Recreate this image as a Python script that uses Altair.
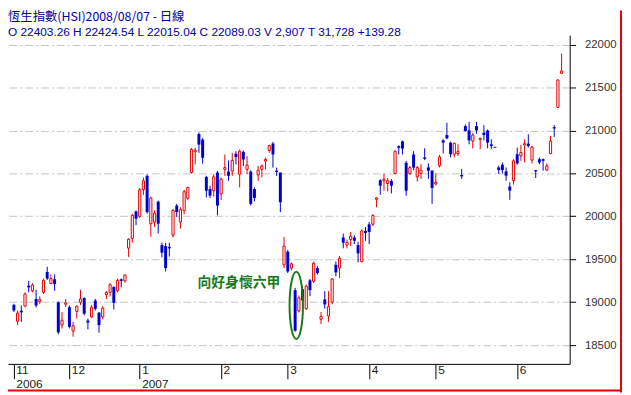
import altair as alt
import pandas as pd

# ---------------- data ----------------
opens = [
    18969, 18778, 18900, 18954, 19191, 19133, 19038, 19007, 19114, 19351,
    19217, 19267, 19000, 18733, 18977, 18942, 18664, 18893, 19000, 19049,
    18786, 18828, 19019, 18878, 18828, 19088, 19114, 19179, 19133, 19267,
    19248, 19630, 19744, 20057, 20000, 20310, 20471, 19914, 19934, 20171,
    19665, 19654, 19642, 19780, 20125, 19934, 20068, 20210, 20509, 20751,
    20958, 20893, 20459, 20317, 20298, 20509, 20260, 20547, 20521, 20528,
    20728, 20490, 20751, 20547, 20521, 20317, 20482, 20547, 20643, 20766,
    20847, 20532, 20509, 19435, 19588, 19397, 19140, 18898, 19150, 18925,
    19255, 19243, 19397, 18802, 19032, 18840, 19001, 19435, 19397, 19753,
    19665, 19730, 19753, 19665, 19473, 19830, 19907, 19907, 20198, 20421,
    20413, 20382, 20413, 20498, 20816, 20873, 20624, 20498, 20720, 20459,
    20500, 20685, 20569, 20531, 20377, 20588, 20885, 20946, 20858, 20723,
    20731, 20481, 21050, 21000, 20877, 21050, 20896, 20973, 21000, 20838,
    20808, 20569, 20600, 20523, 20346, 20415, 20723, 20704, 20831, 20846,
    20654, 20538, 20665, 20665, 20538, 20731, 21038, 21269, 21665,
]
highs = [
    18981, 18904, 18962, 19114, 19248, 19221, 19145, 19068, 19275, 19412,
    19324, 19324, 19007, 18885, 19038, 18962, 18771, 18962, 19145, 19057,
    18809, 18969, 19038, 18885, 18954, 19130, 19221, 19183, 19275, 19275,
    19324, 19744, 20030, 20069, 20330, 20450, 20490, 20229, 20068, 20183,
    19692, 19692, 19692, 20087, 20145, 20106, 20306, 20344, 20797, 20797,
    20977, 20912, 20471, 20356, 20490, 20528, 20452, 20720, 20651, 20739,
    20758, 20778, 20766, 20701, 20536, 20336, 20586, 20605, 20682, 20835,
    20866, 20567, 20509, 19761, 19608, 19462, 19166, 19078, 19190, 19205,
    19270, 19473, 19423, 18886, 19128, 19128, 19282, 19473, 19538, 19799,
    19730, 19818, 19780, 19703, 19845, 19876, 19934, 20022, 20221, 20432,
    20498, 20444, 20432, 20766, 20827, 20881, 20643, 20586, 20758, 20586,
    20608, 20792, 20615, 20538, 20500, 20715, 20896, 21088, 20869, 20858,
    20838, 20550, 21069, 21100, 20973, 21100, 20915, 21061, 21011, 20896,
    20810, 20588, 20627, 20569, 20396, 20665, 20800, 20831, 20896, 20954,
    20819, 20540, 20685, 20673, 20615, 20935, 21061, 21590, 21894,
]
lows = [
    18885, 18733, 18771, 18942, 19114, 19114, 18939, 18977, 19095, 19259,
    19210, 19133, 18626, 18694, 18942, 18694, 18599, 18809, 18969, 18847,
    18683, 18817, 18904, 18645, 18801, 19038, 19068, 18916, 19114, 19172,
    19229, 19526, 19694, 19897, 19980, 20250, 20030, 19761, 19876, 19799,
    19523, 19358, 19531, 19753, 19991, 19857, 20022, 20191, 20498, 20605,
    20739, 20613, 20221, 20214, 20229, 20010, 20191, 20471, 20413, 20471,
    20605, 20336, 20586, 20490, 20125, 20175, 20413, 20452, 20547, 20739,
    20567, 20471, 20049, 19397, 19339, 19370, 18656, 18879, 18980, 18909,
    19070, 19224, 19320, 18744, 18925, 18771, 18975, 19301, 19282, 19627,
    19627, 19654, 19677, 19462, 19462, 19715, 19677, 19884, 20106, 20252,
    20298, 20290, 20267, 20490, 20720, 20720, 20240, 20482, 20536, 20405,
    20435, 20654, 20435, 20146, 20358, 20569, 20731, 20896, 20685, 20685,
    20704, 20435, 20985, 20838, 20792, 20961, 20781, 20885, 20792, 20781,
    20797, 20492, 20500, 20415, 20192, 20369, 20600, 20646, 20627, 20800,
    20615, 20446, 20608, 20531, 20531, 20723, 20923, 21261, 21660,
]
closes = [
    18904, 18874, 18881, 19095, 19172, 19198, 18962, 19030, 19255, 19275,
    19275, 19210, 18649, 18790, 18992, 18713, 18725, 18954, 19038, 18866,
    18763, 18942, 18923, 18733, 18930, 19114, 19202, 18992, 19255, 19248,
    19317, 19733, 20011, 19973, 20310, 20413, 20049, 20214, 20037, 19914,
    19577, 19397, 19627, 20068, 20049, 20076, 20286, 20336, 20778, 20770,
    20835, 20682, 20298, 20240, 20459, 20125, 20432, 20567, 20471, 20651,
    20689, 20758, 20662, 20597, 20145, 20214, 20536, 20586, 20662, 20824,
    20720, 20517, 20164, 19654, 19358, 19446, 18668, 19051, 19020, 19186,
    19140, 19454, 19339, 18833, 18974, 18948, 19270, 19347, 19512, 19692,
    19696, 19769, 19715, 19569, 19830, 19807, 19818, 20010, 20214, 20356,
    20432, 20413, 20356, 20758, 20797, 20789, 20298, 20567, 20567, 20567,
    20538, 20669, 20531, 20331, 20396, 20692, 20858, 20908, 20723, 20850,
    20754, 20465, 20992, 20885, 20946, 21000, 20908, 20946, 20858, 20819,
    20800, 20538, 20538, 20473, 20300, 20646, 20615, 20742, 20846, 20819,
    20808, 20523, 20627, 20646, 20588, 20877, 21023, 21588, 21692,
]

month_tick_index = [0, 15, 34, 56, 74, 96, 114, 136]
month_labels = ["11", "12", "1", "2", "3", "4", "5", "6"]
year_labels = ["2006", "", "2007", "", "", "", "", ""]
price_ticks = [18500, 19000, 19500, 20000, 20500, 21000, 21500, 22000]

title_line1 = "恆生指數(HSI)2008/08/07   - 日線"
title_line2 = "O 22403.26 H 22424.54 L 22015.04 C 22089.03 V 2,907 T 31,728  +139.28"
note_text = "向好身懷六甲"
note_pos = [49.6, 19224]       # index, price (left/middle of the note)
ellipse_pos = [76.3, 18963]    # index, price (centre of the ellipse)

# ---------------- styling ----------------
RED = "#e00000"
BLUE = "#0000cc"
TITLE_BLUE = "#0000a0"
GREEN = "#1a7a1a"

W, H = 569, 333
XDOM = [-0.259, 148.85]
YDOM = [18281.6, 22109.2]

n = len(opens)
df = pd.DataFrame({"i": list(range(n)), "open": opens, "high": highs,
                   "low": lows, "close": closes})
df["dir"] = ["up" if c >= o else "down" for o, c in zip(opens, closes)]
df["top"] = df[["open", "close"]].max(axis=1)
df["bot"] = df[["open", "close"]].min(axis=1)

xscale = alt.Scale(domain=XDOM, nice=False, zero=False)
yscale = alt.Scale(domain=YDOM, nice=False, zero=False)
cscale = alt.Scale(domain=["up", "down"], range=[RED, BLUE])

lab_items = []
for m, y in zip(month_labels, year_labels):
    if y:
        lab_items.append("['%s','%s']" % (m, y))
    else:
        lab_items.append("'%s'" % m)
label_expr = "[" + ",".join(lab_items) + "][indexof([" + ",".join(
    str(v) for v in month_tick_index) + "], datum.value)]"

x_axis = alt.Axis(values=month_tick_index, labelExpr=label_expr, orient="bottom",
                  tickSize=15, tickColor="black", domainColor="black",
                  labelAlign="left", labelBaseline="top", labelPadding=-14,
                  labelOffset=2, labelFontSize=12, labelFont="Liberation Sans",
                  labelColor="#222222", labelLineHeight=14, labelFlush=False,
                  labelOverlap=False, grid=False, title=None)
y_axis = alt.Axis(values=price_ticks, orient="right", tickSize=6, labelPadding=9,
                  labelFont="Liberation Sans", labelFontSize=11.5, labelColor="#333333",
                  grid=True, gridColor="#c4c4c4", gridDash=[8, 3, 2, 3],
                  domainColor="black", tickColor="black", title=None, format="d",
                  labelFlush=False)

base = alt.Chart(df)

wicks = base.mark_rule(strokeWidth=1).encode(
    x=alt.X("i:Q", scale=xscale, axis=x_axis),
    y=alt.Y("low:Q", scale=yscale, axis=y_axis),
    y2="high:Q",
    color=alt.Color("dir:N", scale=cscale, legend=None),
)

bodies_down = base.transform_filter("datum.dir == 'down'").mark_bar(
    width=3, color=BLUE).encode(
    x=alt.X("i:Q", scale=xscale, title=None),
    y=alt.Y("top:Q", scale=yscale, title=None),
    y2="bot:Q",
)

bodies_up = base.transform_filter("datum.dir == 'up'").mark_bar(
    width=2.2, fill="white", stroke=RED, strokeWidth=1).encode(
    x=alt.X("i:Q", scale=xscale, title=None),
    y=alt.Y("top:Q", scale=yscale, title=None),
    y2="bot:Q",
)

ell_df = pd.DataFrame({"i": [ellipse_pos[0]], "p": [ellipse_pos[1]]})
ellipse = alt.Chart(ell_df).mark_point(
    shape="M0,-1A0.2,1,0,1,1,0,1A0.2,1,0,1,1,0,-1Z", size=4624,
    filled=False, stroke=GREEN, strokeWidth=2, opacity=1).encode(
    x=alt.X("i:Q", scale=xscale, title=None),
    y=alt.Y("p:Q", scale=yscale, title=None),
)

note_df = pd.DataFrame({"i": [note_pos[0]], "p": [note_pos[1]], "t": [note_text]})
note = alt.Chart(note_df).mark_text(
    align="left", baseline="middle", font="Noto Sans CJK TC", fontSize=14,
    fontWeight="bold", color=GREEN).encode(
    x=alt.X("i:Q", scale=xscale, title=None),
    y=alt.Y("p:Q", scale=yscale, title=None),
    text="t:N",
)

t1 = alt.Chart(pd.DataFrame({"t": [title_line1]})).mark_text(
    align="left", baseline="alphabetic", font="Noto Sans CJK TC", fontSize=12.5,
    color=TITLE_BLUE).encode(x=alt.value(0), y=alt.value(-14), text="t:N")
t2 = alt.Chart(pd.DataFrame({"t": [title_line2]})).mark_text(
    align="left", baseline="alphabetic", font="Liberation Sans", fontSize=12,
    color=TITLE_BLUE).encode(x=alt.value(0), y=alt.value(1), text="t:N")

frame_r = alt.Chart(pd.DataFrame({"k": [0]})).mark_rule(color=RED, strokeWidth=2).encode(
    x=alt.value(621), y=alt.value(-25), y2=alt.value(362))
frame_b = alt.Chart(pd.DataFrame({"k": [0]})).mark_rule(color=RED, strokeWidth=2).encode(
    x=alt.value(-8), x2=alt.value(622), y=alt.value(360))

chart = alt.layer(wicks, bodies_down, bodies_up, ellipse, note, t1, t2,
                  frame_r, frame_b).properties(
    width=W, height=H,
    padding={"left": 0, "top": 25, "right": 54, "bottom": 29},
    autosize=alt.AutoSizeParams(type="none"),
    background="white",
).configure_view(stroke=None)

chart.save("out.html", embed_options={"renderer": "svg", "actions": False})
